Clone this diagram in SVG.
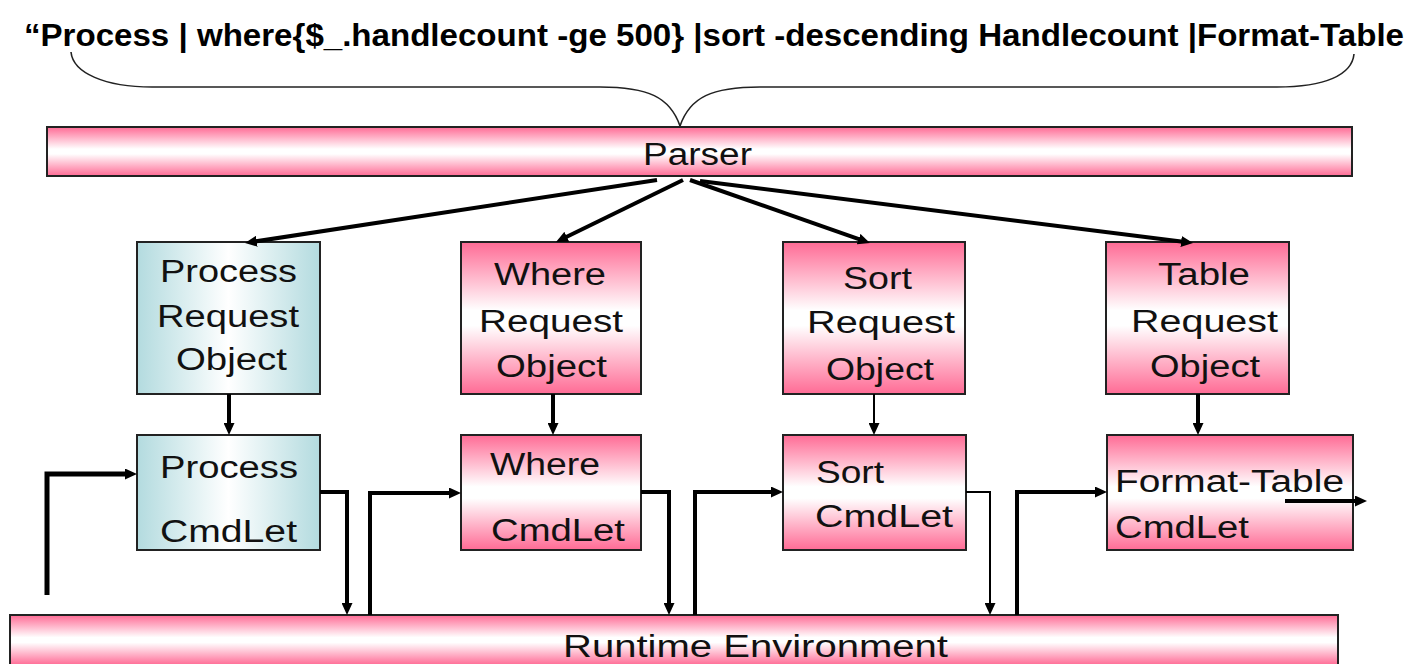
<svg xmlns="http://www.w3.org/2000/svg" width="1413" height="664" viewBox="0 0 1413 664">
  <defs>
    <linearGradient id="pinkV" x1="0" y1="0" x2="0" y2="1">
      <stop offset="0" stop-color="#ff6b95"/>
      <stop offset="0.45" stop-color="#ffffff"/>
      <stop offset="0.55" stop-color="#ffffff"/>
      <stop offset="1" stop-color="#ff6b95"/>
    </linearGradient>
    <linearGradient id="cyanH" x1="0" y1="0" x2="1" y2="0">
      <stop offset="0" stop-color="#b3dbdf"/>
      <stop offset="0.5" stop-color="#ffffff"/>
      <stop offset="1" stop-color="#b3dbdf"/>
    </linearGradient>
    <marker id="arrow" markerUnits="userSpaceOnUse" markerWidth="12" markerHeight="11" refX="4" refY="5.5" orient="auto">
      <path d="M0,0 L12,5.5 L0,11 z" fill="#000"/>
    </marker>
  </defs>
  <style>
    .box { stroke: #222; stroke-width: 2; }
    .pink { fill: url(#pinkV); }
    .cyan { fill: url(#cyanH); }
    .lbl { font-family: "Liberation Sans", Arial, sans-serif; font-size: 31px; fill: #111; }
    .cmd { font-family: "Liberation Sans", Arial, sans-serif; font-size: 32px; font-weight: bold; fill: #000; }
    .wire { fill: none; stroke: #000; stroke-width: 4; }
    .thin { stroke-width: 2; }
    .brace { fill: none; stroke: #222; stroke-width: 1.6; }
  </style>
  <rect width="1413" height="664" fill="#fff"/>

  <!-- command line and brace -->
  <g id="command">
    <text class="cmd" x="24" y="46" textLength="1380" lengthAdjust="spacingAndGlyphs">“Process | where{$_.handlecount -ge 500} |sort -descending Handlecount |Format-Table</text>
    <path class="brace" d="M71,52 C73,73 105,87 152,87 L600,87 C648,87 670,97 680,126 C690,97 712,87 760,87 L1277,87 C1325,87 1352,75 1354,54"/>
  </g>

  <g id="parser">
    <rect class="box pink" x="47" y="127" width="1305" height="49"/>
    <text class="lbl" x="643" y="165" textLength="109" lengthAdjust="spacingAndGlyphs">Parser</text>
  </g>

  <!-- request objects -->
  <g id="process-request">
    <rect class="box cyan" x="137" y="242" width="183" height="152"/>
    <text class="lbl" x="160" y="282" textLength="137" lengthAdjust="spacingAndGlyphs">Process</text>
    <text class="lbl" x="157" y="327" textLength="142" lengthAdjust="spacingAndGlyphs">Request</text>
    <text class="lbl" x="176" y="370" textLength="111" lengthAdjust="spacingAndGlyphs">Object</text>
  </g>
  <g id="where-request">
    <rect class="box pink" x="461" y="242" width="180" height="152"/>
    <text class="lbl" x="494" y="285" textLength="112" lengthAdjust="spacingAndGlyphs">Where</text>
    <text class="lbl" x="479" y="332" textLength="144" lengthAdjust="spacingAndGlyphs">Request</text>
    <text class="lbl" x="496" y="377" textLength="111" lengthAdjust="spacingAndGlyphs">Object</text>
  </g>
  <g id="sort-request">
    <rect class="box pink" x="783" y="242" width="182" height="152"/>
    <text class="lbl" x="843" y="289" textLength="69" lengthAdjust="spacingAndGlyphs">Sort</text>
    <text class="lbl" x="807" y="333" textLength="148" lengthAdjust="spacingAndGlyphs">Request</text>
    <text class="lbl" x="826" y="380" textLength="108" lengthAdjust="spacingAndGlyphs">Object</text>
  </g>
  <g id="table-request">
    <rect class="box pink" x="1106" y="242" width="183" height="152"/>
    <text class="lbl" x="1158" y="285" textLength="92" lengthAdjust="spacingAndGlyphs">Table</text>
    <text class="lbl" x="1131" y="332" textLength="147" lengthAdjust="spacingAndGlyphs">Request</text>
    <text class="lbl" x="1150" y="377" textLength="110" lengthAdjust="spacingAndGlyphs">Object</text>
  </g>

  <!-- cmdlets -->
  <g id="process-cmdlet">
    <rect class="box cyan" x="137" y="435" width="183" height="115"/>
    <text class="lbl" x="160" y="478" textLength="138" lengthAdjust="spacingAndGlyphs">Process</text>
    <text class="lbl" x="160" y="542" textLength="137" lengthAdjust="spacingAndGlyphs">CmdLet</text>
  </g>
  <g id="where-cmdlet">
    <rect class="box pink" x="461" y="435" width="180" height="115"/>
    <text class="lbl" x="490" y="475" textLength="110" lengthAdjust="spacingAndGlyphs">Where</text>
    <text class="lbl" x="491" y="541" textLength="134" lengthAdjust="spacingAndGlyphs">CmdLet</text>
  </g>
  <g id="sort-cmdlet">
    <rect class="box pink" x="783" y="435" width="183" height="115"/>
    <text class="lbl" x="816" y="483" textLength="68" lengthAdjust="spacingAndGlyphs">Sort</text>
    <text class="lbl" x="815" y="527" textLength="138" lengthAdjust="spacingAndGlyphs">CmdLet</text>
  </g>
  <g id="format-table-cmdlet">
    <rect class="box pink" x="1107" y="435" width="246" height="115"/>
    <text class="lbl" x="1115" y="492" textLength="229" lengthAdjust="spacingAndGlyphs">Format-Table</text>
    <text class="lbl" x="1115" y="538" textLength="134" lengthAdjust="spacingAndGlyphs">CmdLet</text>
  </g>

  <g id="runtime">
    <rect class="box pink" x="10" y="615" width="1328" height="50"/>
    <text class="lbl" x="563" y="657" textLength="385" lengthAdjust="spacingAndGlyphs">Runtime Environment</text>
  </g>

  <!-- connectors -->
  <g id="connectors">
    <!-- parser to request objects -->
    <path class="wire" d="M657,180 L252.9,241.8" marker-end="url(#arrow)"/>
    <path class="wire" d="M683,180 L563.2,238.5" marker-end="url(#arrow)"/>
    <path class="wire" d="M690,180 L862.4,240.4" marker-end="url(#arrow)"/>
    <path class="wire" d="M700,181 L1185.1,242" marker-end="url(#arrow)"/>
    <!-- request objects to cmdlets -->
    <path class="wire" d="M229,394 V427" marker-end="url(#arrow)"/>
    <path class="wire" d="M553,394 V427" marker-end="url(#arrow)"/>
    <path class="wire thin" d="M874,394 V427" marker-end="url(#arrow)"/>
    <path class="wire" d="M1198,394 V427" marker-end="url(#arrow)"/>
    <!-- pipeline through the runtime -->
    <path class="wire" style="stroke-width:5" d="M47,595 V474 H129" marker-end="url(#arrow)"/>
    <path class="wire" d="M320,492 H347 V607" marker-end="url(#arrow)"/>
    <path class="wire" d="M370,615 V493 H453" marker-end="url(#arrow)"/>
    <path class="wire" d="M641,492 H669 V607" marker-end="url(#arrow)"/>
    <path class="wire" d="M695,615 V492 H775" marker-end="url(#arrow)"/>
    <path class="wire thin" d="M966,492 H990 V607" marker-end="url(#arrow)"/>
    <path class="wire" d="M1017,615 V492 H1099" marker-end="url(#arrow)"/>
    <path class="wire" d="M1285,501 H1359" marker-end="url(#arrow)"/>
  </g>
</svg>
